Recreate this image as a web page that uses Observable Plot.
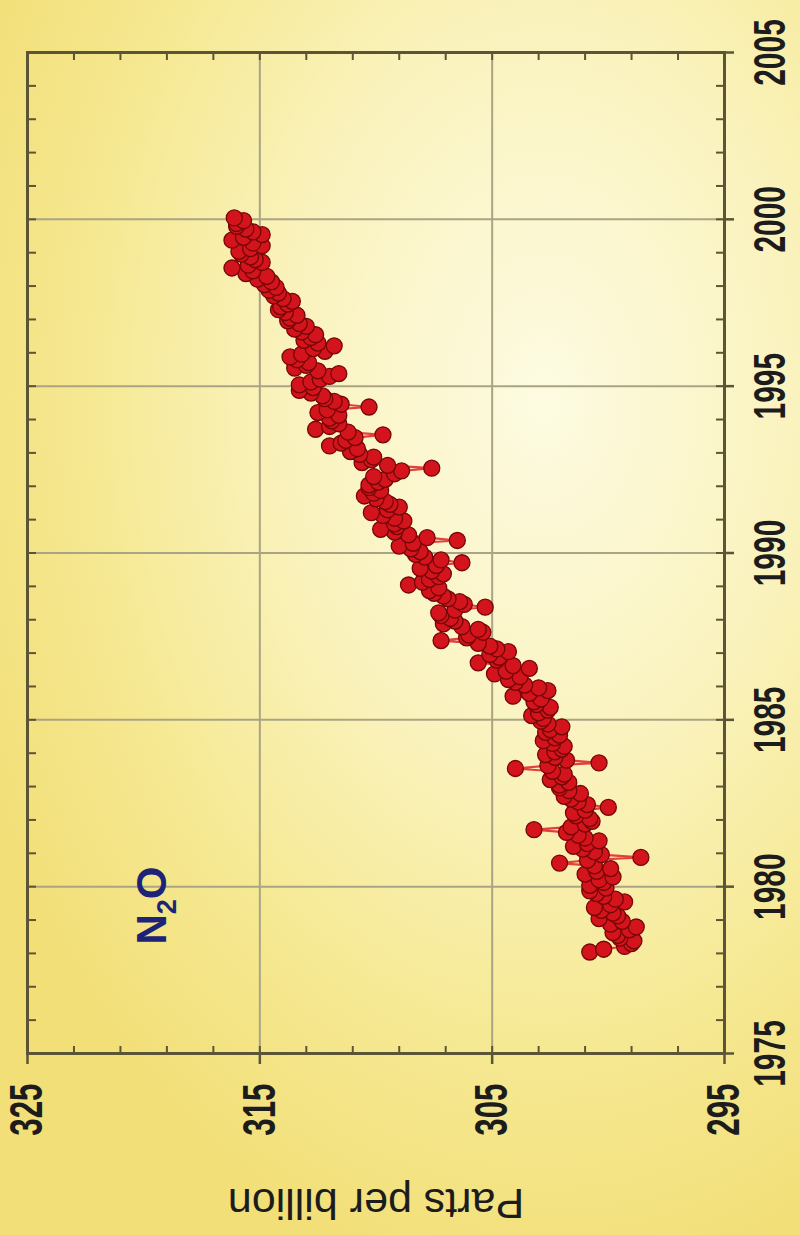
<!DOCTYPE html>
<html><head><meta charset="utf-8">
<script src="https://cdn.jsdelivr.net/npm/d3@7"></script>
<script src="https://cdn.jsdelivr.net/npm/@observablehq/plot@0.6"></script>
<style>
html,body{margin:0;padding:0;width:800px;height:1235px;overflow:hidden;}
body{background: radial-gradient(ellipse 620px 900px at 68% 32%, #fdfbe2 0%, #faf3bf 40%, #f6e994 72%, #f2df78 100%);}
#wrap{position:absolute;left:0;top:0;width:1235px;height:800px;transform-origin:0 0;transform:translate(0px,1235px) rotate(-90deg);}
</style></head><body><div id="wrap"></div>
<script>
// Sampling: monthly values
const years = [1978,1979,1980,1981,1982,1983,1984,1985,1986,1987,1988,1989,1990,1991,1992,1993,1994,1995,1996,1997,1998,1999];
const months = [1,2,3,4,5,6,7,8,9,10,11,12];
const lastSampleYear = 2000;
// N2O, parts per billion (12 samples per year)
const ppbValues = [
  300.8, 300.2, 299.3, 299.0, 298.9, 299.5, 299.6, 299.8, 299.1, 298.8, 299.9, 299.4, // 1978
  300.4, 299.6, 299.8, 300.3, 300.6, 299.9, 299.3, 299.7, 300.2, 300.5, 300.8, 300.1, // 1979
  300.8, 300.2, 300.4, 299.8, 301.0, 300.5, 299.9, 300.6, 302.1, 300.9, 298.6, 300.3, // 1980
  300.6, 301.1, 301.5, 300.9, 300.4, 301.0, 301.3, 301.8, 303.2, 301.6, 301.0, 300.7, // 1981
  300.8, 301.4, 301.5, 301.0, 300.0, 300.9, 301.3, 301.6, 301.9, 301.2, 301.7, 302.1, // 1982
  302.1, 301.7, 302.5, 302.0, 301.9, 302.4, 304.0, 302.6, 300.4, 301.8, 302.3, 302.7, // 1983
  302.3, 302.0, 301.9, 302.4, 302.8, 302.3, 302.1, 302.7, 302.5, 302.0, 302.6, 302.9, // 1984
  302.8, 303.3, 303.0, 302.6, 302.5, 303.1, 303.2, 302.9, 304.1, 303.4, 302.6, 303.0, // 1985
  303.6, 304.0, 304.3, 303.8, 304.9, 304.4, 303.4, 304.1, 305.6, 304.8, 304.7, 305.1, // 1986
  304.3, 304.8, 305.1, 305.6, 307.2, 306.1, 306.0, 305.4, 305.6, 306.3, 307.1, 306.6, // 1987
  306.8, 307.2, 307.3, 306.6, 305.3, 306.2, 306.4, 306.9, 307.1, 307.5, 307.7, 307.3, // 1988
  308.6, 308.0, 307.7, 307.3, 307.1, 307.6, 308.1, 307.4, 306.3, 307.2, 307.9, 308.3, // 1989
  308.1, 308.5, 309.0, 308.4, 306.5, 307.8, 308.6, 309.2, 309.8, 309.1, 309.2, 308.8, // 1990
  309.2, 309.7, 310.2, 309.5, 309.0, 309.4, 309.6, 310.0, 310.5, 310.1, 309.8, 310.3, // 1991
  310.3, 309.9, 309.6, 310.1, 309.2, 308.9, 307.6, 309.5, 310.6, 310.2, 310.1, 310.7, // 1992
  311.1, 310.8, 312.0, 311.5, 311.3, 310.9, 309.7, 311.2, 312.6, 312.0, 311.6, 311.9, // 1993
  312.0, 311.6, 312.5, 312.1, 310.3, 311.5, 311.8, 312.2, 312.3, 312.8, 313.3, 312.7, // 1994
  313.3, 312.8, 312.4, 312.0, 311.6, 312.5, 313.5, 313.0, 312.9, 313.4, 313.7, 313.2, // 1995
  312.2, 312.7, 311.8, 312.5, 313.1, 312.8, 312.6, 313.2, 313.5, 313.0, 313.3, 313.8, // 1996
  313.7, 313.4, 313.9, 314.2, 314.1, 313.8, 313.6, 314.0, 314.4, 314.2, 314.6, 314.3, // 1997
  314.8, 314.5, 315.1, 314.7, 315.6, 315.3, 316.2, 315.5, 314.9, 315.2, 315.4, 315.8, // 1998
  315.9, 315.4, 314.9, 315.3, 316.2, 315.7, 314.9, 315.3, 315.6, 316.0, 316.0, 315.7  // 1999
];
const lastSampleValue = 316.1; // Jan 2000

const yearTicks = [1975,1980,1985,1990,1995,2000,2005];
const gridYears = [1980,1985,1990,1995,2000];
const minorYears = [1976,1977,1978,1979,1980,1981,1982,1983,1984,1985,1986,1987,1988,1989,1990,1991,1992,1993,1994,1995,1996,1997,1998,1999,2000,2001,2002,2003,2004];
const ppbTicks = [295,305,315,325];
const gridPpb = [305,315];
const minorPpb = [297,299,301,303,305,307,309,311,313,315,317,319,321,323];
const seriesLabel = "N2O";
const yLabel = "Parts per billion";

const times = years.flatMap(y => months.map(m => y + (m - 0.5) / 12));
const data = times.map((t, i) => ({t, ppb: ppbValues[i]}));
data.push({t: lastSampleYear + 0.5 / 12, ppb: lastSampleValue});

const axisColor = "#5b5535";
const gridColor = "#aaa485";
const font = "'Liberation Sans', Arial, Helvetica, sans-serif";

const chart = Plot.plot({
  width: 1235, height: 800,
  marginLeft: 181, marginRight: 53, marginTop: 27, marginBottom: 76,
  x: {domain: [1975, 2005]},
  y: {domain: [295, 325]},
  style: {background: "transparent", maxWidth: "none", overflow: "visible", color: "#1c1c1c", fontFamily: font},
  marks: [
    Plot.gridX(gridYears, {stroke: gridColor, strokeOpacity: 1, strokeWidth: 2}),
    Plot.gridY(gridPpb, {stroke: gridColor, strokeOpacity: 1, strokeWidth: 2}),
    Plot.axisX(minorYears, {anchor: "bottom", tickSize: -8, stroke: axisColor, strokeWidth: 2, fill: "none", label: null}),
    Plot.axisX(minorYears, {anchor: "top", tickSize: -8, stroke: axisColor, strokeWidth: 2, fill: "none", label: null}),
    Plot.axisY(minorPpb, {anchor: "left", tickSize: -8, stroke: axisColor, strokeWidth: 2, fill: "none", label: null}),
    Plot.axisY(minorPpb, {anchor: "right", tickSize: -8, stroke: axisColor, strokeWidth: 2, fill: "none", label: null}),
    Plot.axisX(yearTicks, {anchor: "bottom", tickSize: 10, tickPadding: 19, stroke: axisColor, strokeWidth: 2.5,
      fontSize: 44, fontWeight: "bold", tickFormat: d => String(d), label: null}),
    Plot.axisY(ppbTicks, {anchor: "left", tickSize: 10, tickPadding: 20, stroke: axisColor, strokeWidth: 2.5,
      fontSize: 46, fontWeight: "bold", tickFormat: d => String(d), label: null}),
    Plot.frame({stroke: axisColor, strokeWidth: 3}),
    Plot.text([yLabel], {frameAnchor: "left", dx: -149, rotate: -90, textAnchor: "middle", lineAnchor: "middle",
      fontSize: 43, text: d => d, fill: "#1c1c1c"}),
    Plot.text([seriesLabel], {frameAnchor: "top-left", dx: 109, dy: 125, textAnchor: "start", lineAnchor: "middle",
      fontSize: 42, fontWeight: "bold", fill: "#1d2478", text: d => d}),
    Plot.line(data, {x: "t", y: "ppb", stroke: "#e2403c", strokeWidth: 2.2}),
    Plot.dot(data, {x: "t", y: "ppb", r: 8, fill: "#d3141d", stroke: "#760606", strokeWidth: 1.3})
  ]
});

document.getElementById("wrap").appendChild(chart);

// condensed tick labels
chart.querySelectorAll('g[aria-label="x-axis tick label"] text, g[aria-label="y-axis tick label"] text').forEach(t => {
  const x = +t.getAttribute("x") || 0, y = +t.getAttribute("y") || 0;
  const tr = t.getAttribute("transform") || "";
  t.setAttribute("transform", `${tr} translate(${x},${y}) scale(0.68,1) translate(${-x},${-y})`);
});
// subscript in N2O
chart.querySelectorAll("text").forEach(t => {
  if (t.textContent !== seriesLabel) return;
  t.textContent = "";
  const ns = "http://www.w3.org/2000/svg";
  const a = document.createElementNS(ns, "tspan"); a.textContent = "N";
  const b = document.createElementNS(ns, "tspan"); b.textContent = "2"; b.setAttribute("font-size", "27"); b.setAttribute("dy", "10");
  const c = document.createElementNS(ns, "tspan"); c.textContent = "O"; c.setAttribute("dy", "-10");
  t.append(a, b, c);
});
</script>
</body></html>
